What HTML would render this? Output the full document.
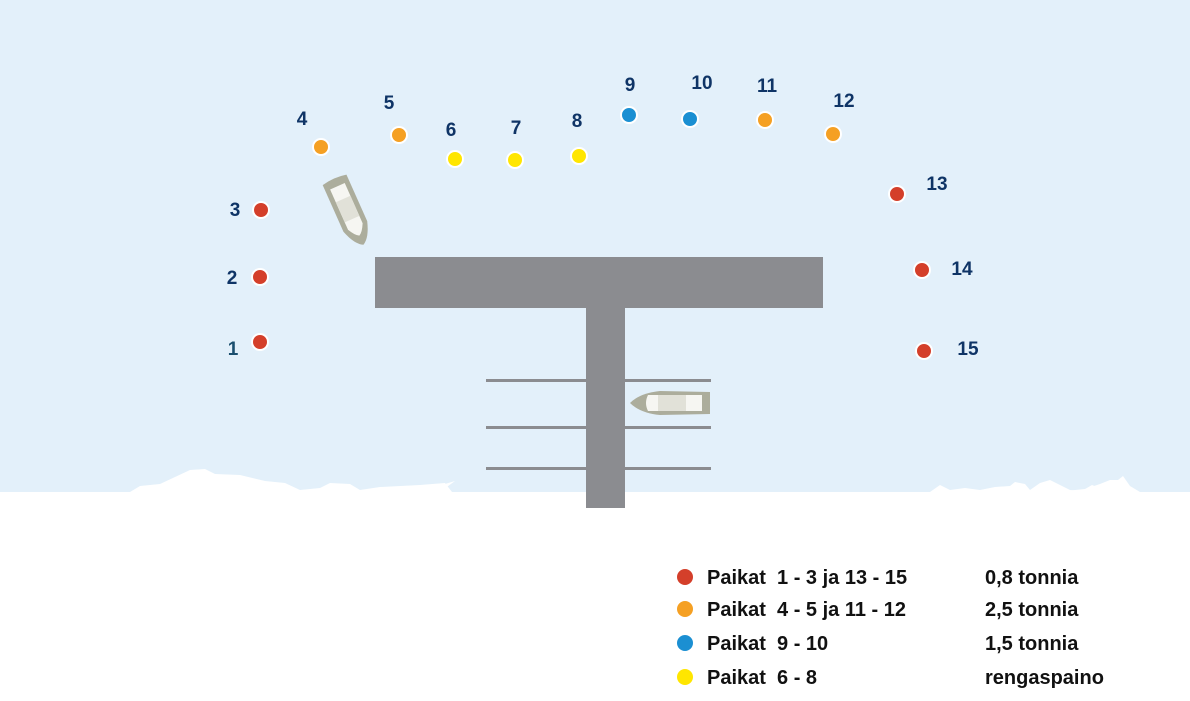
<!DOCTYPE html>
<html><head><meta charset="utf-8">
<style>
html,body{margin:0;padding:0;background:#fff;}
svg{display:block;}
text{font-family:"Liberation Sans",sans-serif;font-weight:bold;}
</style></head>
<body>
<svg id="chart" width="1190" height="701" viewBox="0 0 1190 701" xmlns="http://www.w3.org/2000/svg">
  <rect x="0" y="0" width="1190" height="492" fill="#e3f0fa"/>
  <g fill="#ffffff">
    <path d="M130,492 L140,486 L160,484 L175,477 L190,470 L205,469 L215,474 L240,475 L265,481 L285,483 L300,490 L320,488 L330,483 L350,484 L360,490 L380,487 L420,485 L445,483 L452,492 Z"/>
    <path d="M430,492 L445,484 L455,481 L440,492 Z"/>
    <path d="M930,492 L940,485 L950,490 L965,488 L980,490 L995,487 L1010,486 L1015,482 L1025,484 L1030,490 L1040,483 L1050,480 L1060,485 L1070,490 L1090,492 Z"/>
    <path d="M990,490 L1000,488 L1008,489 Z"/>
    <path d="M1055,492 L1085,489 L1100,484 L1110,480 L1118,480 L1123,476 L1130,486 L1140,492 Z"/>
    <path d="M1080,492 L1092,485 L1100,488 L1110,486 L1120,492 Z"/>
  </g>
  <g fill="#8b8c90">
    <rect x="375" y="257" width="448" height="51"/>
    <rect x="586" y="308" width="39" height="200"/>
    <rect x="486" y="379" width="225" height="3"/>
    <rect x="486" y="426" width="225" height="3"/>
    <rect x="486" y="467" width="225" height="3"/>
  </g>
  <g transform="translate(348,210) rotate(-24)">
    <path d="M-13,-33 Q0,-36 13,-33 L13,18 Q8,34 0,38 Q-8,34 -13,18 Z" fill="#acad9c"/>
    <path d="M-8,-26 L8,-26 L8,18 Q4,26 0,28 Q-4,26 -8,18 Z" fill="#f6f6f2"/>
    <rect x="-8" y="-12" width="16" height="22" fill="#e1e1d8"/>
  </g>
  <g transform="translate(670,403)">
    <path d="M-40,0 Q-30,-10 -10,-12 L40,-11 L40,11 L-10,12 Q-30,10 -40,0 Z" fill="#acad9c"/>
    <path d="M-22,-8 L32,-8 L32,8 L-22,8 Q-26,0 -22,-8 Z" fill="#f6f6f2"/>
    <rect x="-12" y="-8" width="28" height="16" fill="#e1e1d8"/>
  </g>
  <g id="spots"></g>
  <g id="legend"></g>
</svg>
<script>
const spotNumbers = [1,2,3,4,5,6,7,8,9,10,11,12,13,14,15];
const spotX = [260,260,261,321,399,455,515,579,629,690,765,833,897,922,924];
const spotY = [342,277,210,147,135,159,160,156,115,119,120,134,194,270,351];
const labelDX = [-27,-28,-26,-19,-10,-4,1,-2,1,12,2,11,40,40,44];
const labelDY = [6,0,-1,-29,-33,-30,-33,-36,-31,-37,-35,-34,-11,-2,-3];
const spotClass = ['r','r','r','o','o','y','y','y','b','b','o','o','r','r','r'];
const classColor = {r:'#d43f2a', o:'#f5a023', b:'#1b8fd2', y:'#ffe600'};
const legendClass = ['r','o','b','y'];
const legendLabels = ['Paikat  1 - 3 ja 13 - 15','Paikat  4 - 5 ja 11 - 12','Paikat  9 - 10','Paikat  6 - 8'];
const legendValues = ['0,8 tonnia','2,5 tonnia','1,5 tonnia','rengaspaino'];

const NS='http://www.w3.org/2000/svg';
const spots=document.getElementById('spots');
spotNumbers.forEach((n,i)=>{
  const c=document.createElementNS(NS,'circle');
  c.setAttribute('cx',spotX[i]);c.setAttribute('cy',spotY[i]);c.setAttribute('r',8);
  c.setAttribute('fill',classColor[spotClass[i]]);c.setAttribute('stroke','#fff');c.setAttribute('stroke-width',2);
  
  
  spots.appendChild(c);
  const t=document.createElementNS(NS,'text');
  t.setAttribute('x',spotX[i]+labelDX[i]);t.setAttribute('y',spotY[i]+labelDY[i]+7);
  t.setAttribute('text-anchor','middle');t.setAttribute('font-size','19');t.setAttribute('fill',n===1?'#1b4f6e':'#0f3466');
  t.textContent=n;
  
  
  spots.appendChild(t);
});
const legend=document.getElementById('legend');
const legY=[577,609,643,677];
legendClass.forEach((k,i)=>{
  const c=document.createElementNS(NS,'circle');
  c.setAttribute('cx',685);c.setAttribute('cy',legY[i]);c.setAttribute('r',8);c.setAttribute('fill',classColor[k]);
  
  
  legend.appendChild(c);
  const t=document.createElementNS(NS,'text');
  t.setAttribute('x',707);t.setAttribute('y',legY[i]+7);t.setAttribute('font-size','20');t.setAttribute('fill','#111');
  t.setAttribute('xml:space','preserve');t.style.whiteSpace='pre';
  t.textContent=legendLabels[i];
  
  
  legend.appendChild(t);
  const v=document.createElementNS(NS,'text');
  v.setAttribute('x',985);v.setAttribute('y',legY[i]+7);v.setAttribute('font-size','20');v.setAttribute('fill','#111');
  v.textContent=legendValues[i];
  
  
  legend.appendChild(v);
});
</script>
</body></html>
